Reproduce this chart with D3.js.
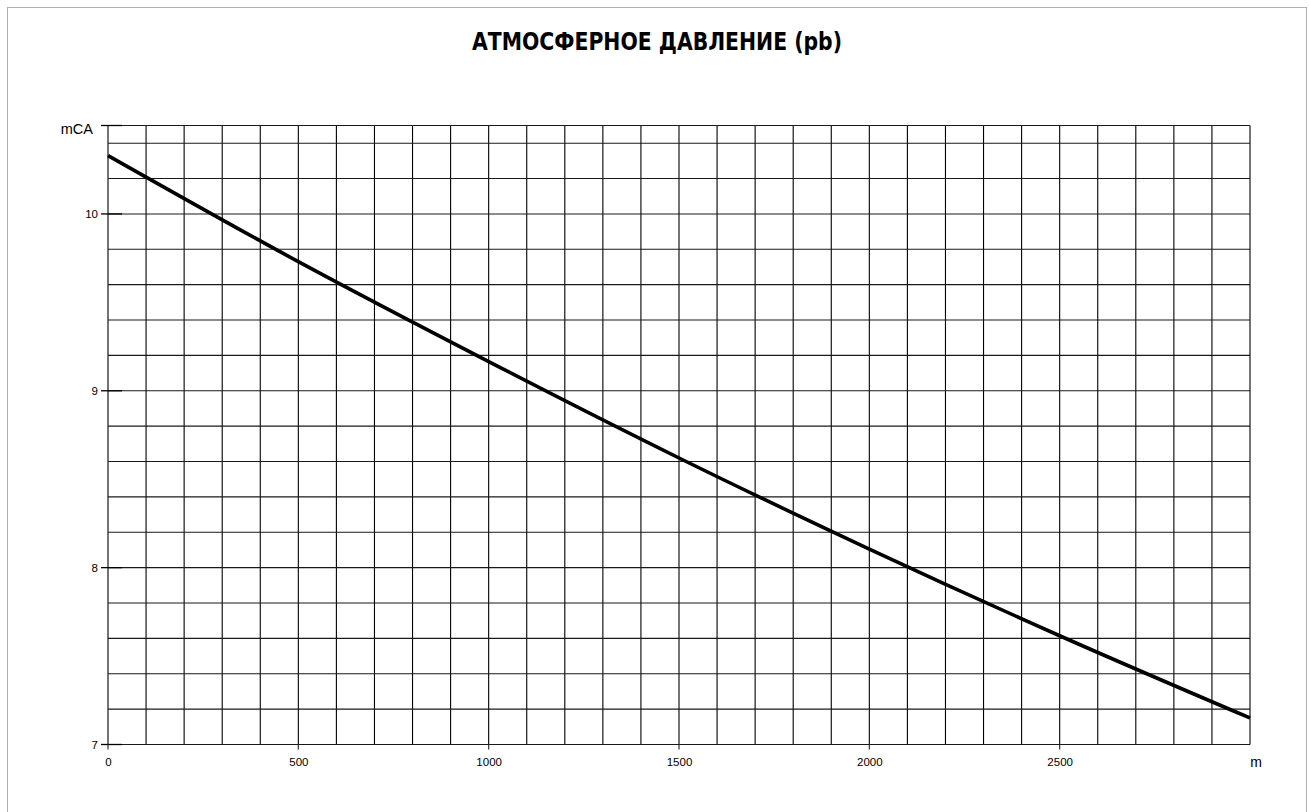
<!DOCTYPE html>
<html><head><meta charset="utf-8">
<script src="https://cdn.jsdelivr.net/npm/d3@7"></script>
<style>
html,body{margin:0;padding:0;background:#fff;}
svg{display:block;}
</style></head>
<body>
<svg id="chart" width="1309" height="812"></svg>
<script>
// Data
const title = "АТМОСФЕРНОЕ ДАВЛЕНИЕ (pb)";
const altitude = [0, 500, 1000, 1500, 2000, 2500, 3000];
const pressure = [10.33, 9.73, 9.165, 8.62, 8.105, 7.615, 7.15];
const xTicks = [0, 500, 1000, 1500, 2000, 2500];
const yTicks = [7, 8, 9, 10];
const xUnit = "m";
const yUnit = "mCA";

const svg = d3.select("#chart");
const W = 1309, H = 812;
const L = 108, R = 1250, T = 125.5, B = 744.5;

const x = d3.scaleLinear().domain([0, 3000]).range([L, R]);
const y = d3.scaleLinear().domain([7, 10.5]).range([B, T]);

// outer frame
svg.append("rect").attr("x", 7.5).attr("y", 7.5).attr("width", 1299).attr("height", 820)
  .attr("fill", "none").attr("stroke", "#b0b0b0").attr("stroke-width", 1);

// title
svg.append("text").attr("x", 657).attr("y", 49.5).attr("text-anchor", "middle")
  .attr("font-family", "'Liberation Sans Narrow','DejaVu Sans Condensed','Liberation Sans',sans-serif")
  .attr("font-weight", "bold").attr("font-size", 25)
  .attr("textLength", 370).attr("lengthAdjust", "spacingAndGlyphs")
  .attr("fill", "#000").text(title);

const g = svg.append("g");

// vertical grid
const xGrid = d3.range(0, 3001, 100);
g.selectAll(".vg").data(xGrid).enter().append("line")
  .attr("x1", d => x(d)).attr("x2", d => x(d)).attr("y1", T).attr("y2", B)
  .attr("stroke", "#000").attr("stroke-width", 1.1);

// horizontal grid
const yGrid = d3.range(0, 18).map(i => +(7 + i * 0.2).toFixed(1)).concat([10.5]);
g.selectAll(".hg").data(yGrid).enter().append("line")
  .attr("x1", L).attr("x2", R).attr("y1", d => y(d)).attr("y2", d => y(d))
  .attr("stroke", "#1a1a1a").attr("stroke-width", 1.1);

// axes via d3 axis
const yAxis = d3.axisLeft(y).tickValues(yTicks.concat([10.5])).tickSize(0)
  .tickFormat(d => d === 10.5 ? "" : d);
const ya = svg.append("g").attr("transform", `translate(${L},0)`).call(yAxis);
ya.select(".domain").remove();
ya.selectAll("text").attr("x", -10).attr("font-family", "'Liberation Sans',Arial,sans-serif")
  .attr("font-size", 11.5).attr("fill", "#000");
// y ticks (extend left & into plot)
svg.selectAll(".yt").data(yTicks.concat([10.5])).enter().append("line")
  .attr("x1", L - 7).attr("x2", L + 14).attr("y1", d => y(d)).attr("y2", d => y(d))
  .attr("stroke", "#000").attr("stroke-width", 1.3);

const xAxis = d3.axisBottom(x).tickValues(xTicks).tickSize(0).tickFormat(d3.format("d"));
const xa = svg.append("g").attr("transform", `translate(0,${B})`).call(xAxis);
xa.select(".domain").remove();
xa.selectAll("text").attr("y", 13).attr("font-family", "'Liberation Sans',Arial,sans-serif")
  .attr("font-size", 11.5).attr("fill", "#000");
svg.selectAll(".xt").data(xTicks).enter().append("line")
  .attr("x1", d => x(d)).attr("x2", d => x(d)).attr("y1", B).attr("y2", B + 5)
  .attr("stroke", "#333").attr("stroke-width", 1.2);

// unit labels
svg.append("text").attr("x", 93).attr("y", 134).attr("text-anchor", "end")
  .attr("font-family", "'Liberation Sans',Arial,sans-serif").attr("font-size", 14.5)
  .attr("fill", "#000").text(yUnit);
svg.append("text").attr("x", 1256).attr("y", 767).attr("text-anchor", "middle")
  .attr("font-family", "'Liberation Sans',Arial,sans-serif").attr("font-size", 14)
  .attr("fill", "#000").text(xUnit);

// curve
const pts = altitude.map((a, i) => [a, pressure[i]]);
svg.append("path").datum(pts)
  .attr("d", d3.line().x(d => x(d[0])).y(d => y(d[1])).curve(d3.curveMonotoneX))
  .attr("fill", "none").attr("stroke", "#000").attr("stroke-width", 3.6);
</script>
</body></html>
